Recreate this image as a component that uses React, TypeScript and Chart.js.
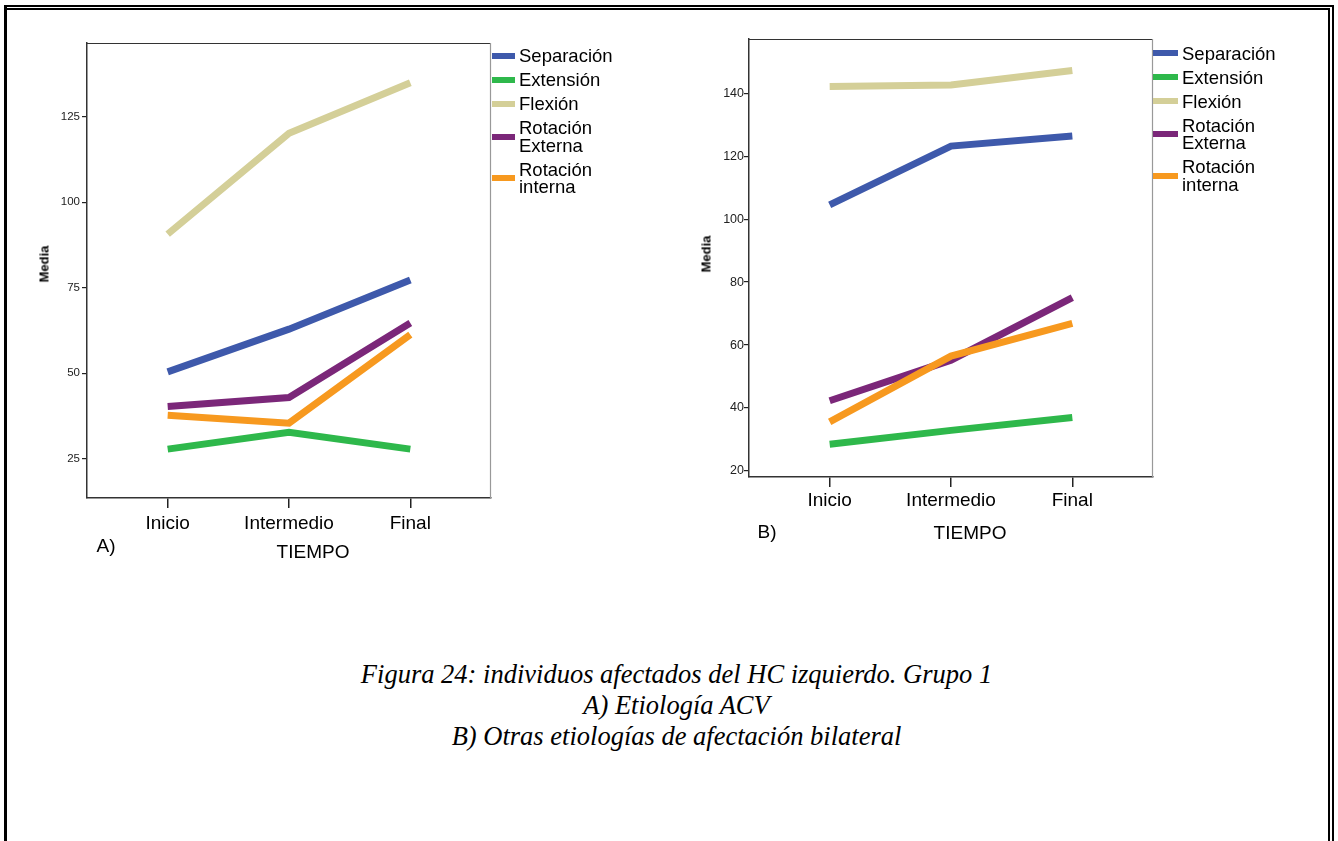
import React, { useEffect, useRef } from "react";
import { Chart, registerables } from "chart.js";
Chart.register(...registerables);
Chart.defaults.font.family = "'Liberation Sans', Arial, sans-serif";

// ---------- data ----------
const CATEGORIES = ["Inicio", "Intermedio", "Final"];
const SERIES_LABELS = ["Separación", "Extensión", "Flexión", "Rotación Externa", "Rotación interna"];
const LEGEND_LINES = [["Separación"], ["Extensión"], ["Flexión"], ["Rotación", "Externa"], ["Rotación", "interna"]];
const SERIES_COLORS = ["#3e59ab", "#2eb84b", "#d4cf98", "#7b2779", "#f7991f"];

const A_SEPARACION = [50.4, 62.9, 77.3];
const A_EXTENSION = [27.8, 32.7, 27.8];
const A_FLEXION = [90.7, 120.2, 135];
const A_ROT_EXTERNA = [40.3, 42.9, 64.7];
const A_ROT_INTERNA = [37.7, 35.4, 61.3];
const A_Y_TICKS = [25, 50, 75, 100, 125];

const B_SEPARACION = [104.5, 123.2, 126.4];
const B_EXTENSION = [28.5, 32.9, 37];
const B_FLEXION = [142.1, 142.6, 147.2];
const B_ROT_EXTERNA = [42.3, 55.2, 75.1];
const B_ROT_INTERNA = [35.6, 56.5, 66.9];
const B_Y_TICKS = [20, 40, 60, 80, 100, 120, 140];

const X_TITLE = "TIEMPO";
const Y_TITLE = "Media";
const CAPTION = [
  "Figura 24: individuos afectados del HC izquierdo. Grupo 1",
  "A) Etiología ACV",
  "B) Otras etiologías de afectación bilateral",
];

// ---------- chart ----------
const boxPlugin = {
  id: "box",
  afterDraw(chart: any) {
    const { ctx, chartArea: a } = chart;
    ctx.save();
    ctx.lineWidth = 1.2;
    ctx.strokeStyle = "#333";
    ctx.beginPath();
    ctx.moveTo(a.left, a.top + 0.5);
    ctx.lineTo(a.right, a.top + 0.5);
    ctx.stroke();
    ctx.strokeStyle = "#999";
    ctx.beginPath();
    ctx.moveTo(a.right - 0.5, a.top);
    ctx.lineTo(a.right - 0.5, a.bottom);
    ctx.stroke();
    ctx.restore();
  },
};

function LineChart(props: any) {
  const ref = useRef<HTMLCanvasElement>(null);
  const p = props;
  useEffect(() => {
    const chart = new Chart(ref.current as HTMLCanvasElement, {
      type: "line",
      data: {
        datasets: p.series.map((vals: number[], i: number) => ({
          label: SERIES_LABELS[i],
          data: vals.map((v, j) => ({ x: j, y: v })),
          borderColor: SERIES_COLORS[i],
          backgroundColor: SERIES_COLORS[i],
          borderWidth: 7,
          pointRadius: 0,
          tension: 0,
          borderCapStyle: "butt",
          order: p.series.length - i,
        })),
      },
      options: {
        animation: false,
        responsive: false,
        devicePixelRatio: 1,
        layout: { padding: { top: p.padTop, right: p.padRight, left: 0, bottom: 0 } },
        plugins: { legend: { display: false }, tooltip: { enabled: false } },
        scales: {
          x: {
            type: "linear",
            min: -0.665,
            max: 2.665,
            afterBuildTicks: (s: any) => {
              s.ticks = CATEGORIES.map((_, i) => ({ value: i }));
            },
            afterFit: (s: any) => {
              s.height = p.xHeight;
            },
            ticks: {
              callback: (v: any) => CATEGORIES[v] ?? "",
              font: { size: 19 },
              color: "#000",
              padding: p.xTickPad,
              maxRotation: 0,
              autoSkip: false,
            },
            grid: { drawOnChartArea: false, drawTicks: true, tickLength: 10, color: "#222", lineWidth: 1.5 },
            border: { display: true, color: "#333", width: 1.5 },
          },
          y: {
            type: "linear",
            min: p.yMin,
            max: p.yMax,
            afterBuildTicks: (s: any) => {
              s.ticks = p.yTicks.map((v: number) => ({ value: v }));
            },
            afterFit: (s: any) => {
              s.width = p.yWidth;
            },
            ticks: { font: { size: p.yFont }, color: "#222", padding: p.yTickPad },
            grid: { drawOnChartArea: false, drawTicks: true, tickLength: p.yTickLen, color: "#222", lineWidth: 1.2 },
            border: { display: true, color: "#333", width: 1.5 },
          },
        },
      },
      plugins: [boxPlugin],
    } as any);
    return () => chart.destroy();
  }, []);
  return (
    <canvas
      ref={ref}
      width={p.width}
      height={p.height}
      style={{ position: "absolute", left: p.left, top: 0, width: p.width, height: p.height }}
    />
  );
}

function Legend({ left, top, textLeft }: any) {
  return (
    <div style={{ position: "absolute", left, top, fontFamily: "'Liberation Sans', Arial, sans-serif", fontSize: 18.5, color: "#000" }}>
      {LEGEND_LINES.map((lines, i) => (
        <div key={i} style={{ display: "flex", alignItems: "center", marginBottom: 6.5 }}>
          <div style={{ width: textLeft - left - 4, height: 6, background: SERIES_COLORS[i], marginRight: 4 }} />
          <div style={{ lineHeight: "17.5px", whiteSpace: "nowrap" }}>
            {lines.map((l, k) => (
              <div key={k}>{l}</div>
            ))}
          </div>
        </div>
      ))}
    </div>
  );
}

const sans = "'Liberation Sans', Arial, sans-serif";

function Label({ text, cx, cy, size, bold, rotate }: any) {
  return (
    <div
      style={{
        position: "absolute",
        left: cx,
        top: cy,
        transform: `translate(-50%, -50%)${rotate ? " rotate(-90deg)" : ""}`,
        fontFamily: sans,
        fontSize: size,
        fontWeight: bold ? "bold" : "normal",
        whiteSpace: "nowrap",
        lineHeight: 1,
        color: "#000",
      }}
    >
      {text}
    </div>
  );
}

export default function App() {
  return (
    <div style={{ position: "fixed", left: 0, top: 0, width: 1338, height: 841, background: "#fff", overflow: "hidden" }}>
      {/* frame */}
      <div style={{ position: "absolute", left: 4, top: 5, width: 1330, height: 2, background: "#000" }} />
      <div style={{ position: "absolute", left: 4, top: 8, width: 1326, height: 2, background: "#000" }} />
      <div style={{ position: "absolute", left: 4, top: 5, width: 3, height: 836, background: "#000" }} />
      <div style={{ position: "absolute", left: 1332, top: 5, width: 2, height: 836, background: "#000" }} />
      <div style={{ position: "absolute", left: 1328, top: 8, width: 2, height: 833, background: "#000" }} />

      <LineChart
        left={0}
        width={500}
        height={560}
        padTop={43}
        padRight={9}
        yWidth={87}
        xHeight={62}
        yMin={13.5}
        yMax={146.6}
        yTicks={A_Y_TICKS}
        yFont={11.5}
        yTickLen={5}
        yTickPad={2}
        xTickPad={4}
        series={[A_SEPARACION, A_EXTENSION, A_FLEXION, A_ROT_EXTERNA, A_ROT_INTERNA]}
      />
      <LineChart
        left={660}
        width={500}
        height={540}
        padTop={39}
        padRight={7}
        yWidth={89}
        xHeight={63}
        yMin={18.1}
        yMax={157.2}
        yTicks={B_Y_TICKS}
        yFont={12.5}
        yTickLen={5}
        yTickPad={0}
        xTickPad={2}
        series={[B_SEPARACION, B_EXTENSION, B_FLEXION, B_ROT_EXTERNA, B_ROT_INTERNA]}
      />

      <Legend left={492} top={47} textLeft={519} />
      <Legend left={1153} top={44.5} textLeft={1182} />

      <Label text={Y_TITLE} cx={44} cy={264} size={13} bold rotate />
      <Label text={Y_TITLE} cx={706} cy={254} size={13} bold rotate />
      <Label text={X_TITLE} cx={313} cy={551} size={19} />
      <Label text={X_TITLE} cx={970} cy={532} size={19} />
      <Label text="A)" cx={106} cy={545} size={19} />
      <Label text="B)" cx={767} cy={531} size={19} />

      <div
        style={{
          position: "absolute",
          left: 0,
          top: 659,
          width: 1353,
          textAlign: "center",
          fontFamily: "'Liberation Serif', 'Times New Roman', serif",
          fontStyle: "italic",
          fontSize: 26.5,
          lineHeight: "31px",
          color: "#000",
        }}
      >
        {CAPTION.map((c, i) => (
          <div key={i}>{c}</div>
        ))}
      </div>
    </div>
  );
}
